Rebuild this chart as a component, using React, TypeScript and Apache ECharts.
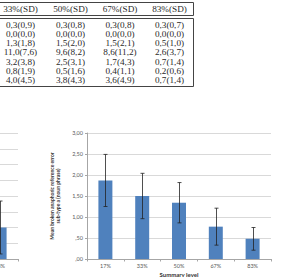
import React, { useEffect, useRef } from "react";
import * as echarts from "echarts";

const tableHeaders = ["33%(SD)", "50%(SD)", "67%(SD)", "83%(SD)"];
const tableRows = [
  ["0,3(0,9)", "0,3(0,8)", "0,3(0,8)", "0,3(0,7)"],
  ["0,0(0,0)", "0,0(0,0)", "0,0(0,0)", "0,0(0,0)"],
  ["1,3(1,8)", "1,5(2,0)", "1,5(2,1)", "0,5(1,0)"],
  ["11,0(7,6)", "9,6(8,2)", "8,6(11,2)", "2,6(3,7)"],
  ["3,2(3,8)", "2,5(3,1)", "1,7(4,3)", "0,7(1,4)"],
  ["0,8(1,9)", "0,5(1,6)", "0,4(1,1)", "0,2(0,6)"],
  ["4,0(4,5)", "3,8(4,3)", "3,6(4,9)", "0,7(1,4)"],
];

const categories = ["17%", "33%", "50%", "67%", "83%"];
const meanValues = [1.87, 1.5, 1.34, 0.77, 0.48];
const sdValues = [0.62, 0.54, 0.48, 0.44, 0.27];
const yTicks = { min: 0, max: 3, interval: 0.5 };

const leftCategories = ["17%", "33%", "50%", "67%", "83%"];
const leftMeans = [null, null, null, null, 0.5];
const leftSds = [null, null, null, null, 0.42];

const yAxisTitle = "Mean broken anaphoric reference error\nsub-type a (noun phrase)";
const xAxisTitle = "Summary level";

const BLUE = "#4F81BD";
const GRID = "#D9D9D9";
const AXIS = "#A6A6A6";
const LABEL = "#595959";
const FONT = "Lato, 'Liberation Sans', sans-serif";

function fmt(v: number) {
  let s = v.toFixed(2).replace(".", ",");
  if (s.startsWith("0,")) s = s.slice(1);
  return s;
}

function errorSeries(xAxisIndex: number, means: (number | null)[], sds: (number | null)[]) {
  const data: any[] = [];
  means.forEach((m, i) => {
    const s = sds[i];
    if (m != null && s != null) data.push([i, m - s, m + s]);
  });
  return {
    type: "custom",
    xAxisIndex,
    yAxisIndex: xAxisIndex,
    data,
    z: 10,
    clip: false,
    renderItem: (params: any, api: any) => {
      const x = api.value(0);
      const lo = api.coord([x, api.value(1)]);
      const hi = api.coord([x, api.value(2)]);
      const cx = Math.round(lo[0]) + 0.5;
      const cap = 2;
      const style = { stroke: "#222", lineWidth: 0.8 };
      return {
        type: "group",
        children: [
          { type: "line", shape: { x1: cx, y1: hi[1], x2: cx, y2: lo[1] }, style },
          { type: "line", shape: { x1: cx - cap, y1: hi[1], x2: cx + cap, y2: hi[1] }, style },
          { type: "line", shape: { x1: cx - cap, y1: lo[1], x2: cx + cap, y2: lo[1] }, style },
        ],
      };
    },
  };
}

function buildTableGraphics() {
  const els: any[] = [];
  const colX = [20.5, 70.5, 120, 169.5];
  const lineStyle = { stroke: "#444", lineWidth: 1 };
  const right = 193.5;
  els.push({ type: "line", shape: { x1: 0, y1: 2.5, x2: right, y2: 2.5 }, style: lineStyle });
  els.push({ type: "line", shape: { x1: 0, y1: 15.5, x2: right, y2: 15.5 }, style: lineStyle });
  els.push({ type: "line", shape: { x1: 0, y1: 18.5, x2: right, y2: 18.5 }, style: lineStyle });
  els.push({ type: "line", shape: { x1: 0, y1: 86.5, x2: right, y2: 86.5 }, style: lineStyle });
  els.push({ type: "line", shape: { x1: right, y1: 2.5, x2: right, y2: 15.5 }, style: lineStyle });
  els.push({ type: "line", shape: { x1: right, y1: 18.5, x2: right, y2: 86.5 }, style: lineStyle });
  const tStyle = (text: string, x: number, y: number) => ({
    type: "text",
    x,
    y,
    style: {
      text,
      fill: "#2a2a2a",
      font: "9.2px 'Liberation Serif', 'Times New Roman', serif",
      lineHeight: 8.5,
      textAlign: "center",
      textVerticalAlign: "middle",
    },
  });
  tableHeaders.forEach((h, i) => els.push(tStyle(h, colX[i], 9)));
  tableRows.forEach((row, r) => {
    row.forEach((cell, c) => els.push(tStyle(cell, colX[c], 24.5 + r * 9.3)));
  });
  return els;
}

function xAxisCfg(gridIndex: number, cats: string[], withName: boolean, onlyLast: boolean) {
  return {
    type: "category",
    gridIndex,
    data: cats,
    axisLine: { lineStyle: { color: AXIS, width: 1 } },
    axisTick: { show: true, length: 2.5, lineStyle: { color: AXIS } },
    axisLabel: {
      color: LABEL,
      fontSize: 5.5,
      fontFamily: FONT,
      margin: 4,
      interval: onlyLast ? (i: number) => i === cats.length - 1 : 0,
    },
    name: withName ? xAxisTitle : "",
    nameLocation: "middle",
    nameGap: 12,
    nameTextStyle: { color: "#333", fontSize: 6, fontWeight: "bold", fontFamily: FONT },
  };
}

export default function App() {
  const ref = useRef<HTMLDivElement>(null);
  useEffect(() => {
    if (!ref.current) return;
    const chart = echarts.init(ref.current, null, { renderer: "svg" });
    chart.setOption({
      animation: false,
      backgroundColor: "#ffffff",
      graphic: buildTableGraphics(),
      grid: [
        { left: -166, top: 133, width: 184, height: 126, outerBoundsMode: "none", containLabel: false },
        { left: 87, top: 133, width: 184, height: 126, outerBoundsMode: "none", containLabel: false },
      ],
      xAxis: [xAxisCfg(0, leftCategories, false, true), xAxisCfg(1, categories, true, false)],
      yAxis: [
        {
          type: "value",
          gridIndex: 0,
          min: 0,
          max: 2,
          interval: 0.25,
          axisLine: { show: true, lineStyle: { color: AXIS } },
          axisTick: { show: true, length: 2, lineStyle: { color: AXIS } },
          axisLabel: { show: false },
          splitLine: { lineStyle: { color: GRID, width: 1 } },
        },
        {
          type: "value",
          gridIndex: 1,
          min: yTicks.min,
          max: yTicks.max,
          interval: yTicks.interval,
          axisLine: { show: true, lineStyle: { color: AXIS } },
          axisTick: { show: true, length: 2, lineStyle: { color: AXIS } },
          axisLabel: {
            color: LABEL,
            fontSize: 5.5,
            fontFamily: FONT,
            margin: 4,
            formatter: (v: number) => fmt(v),
          },
          splitLine: { lineStyle: { color: GRID, width: 1 } },
          name: yAxisTitle,
          nameLocation: "middle",
          nameGap: 19,
          nameRotate: 90,
          nameTextStyle: {
            color: "#333",
            fontSize: 5,
            fontWeight: "bold",
            fontFamily: FONT,
            lineHeight: 6,
            align: "center",
          },
        },
      ],
      series: [
        {
          type: "bar",
          xAxisIndex: 0,
          yAxisIndex: 0,
          data: leftMeans,
          barWidth: "38%",
          itemStyle: { color: BLUE },
        },
        errorSeries(0, leftMeans, leftSds),
        {
          type: "bar",
          xAxisIndex: 1,
          yAxisIndex: 1,
          data: meanValues,
          barWidth: "38%",
          itemStyle: { color: BLUE },
        },
        errorSeries(1, meanValues, sdValues),
      ],
    });
    return () => chart.dispose();
  }, []);
  return (
    <div
      ref={ref}
      style={{ position: "fixed", left: 0, top: 0, width: 287, height: 277 }}
    />
  );
}
